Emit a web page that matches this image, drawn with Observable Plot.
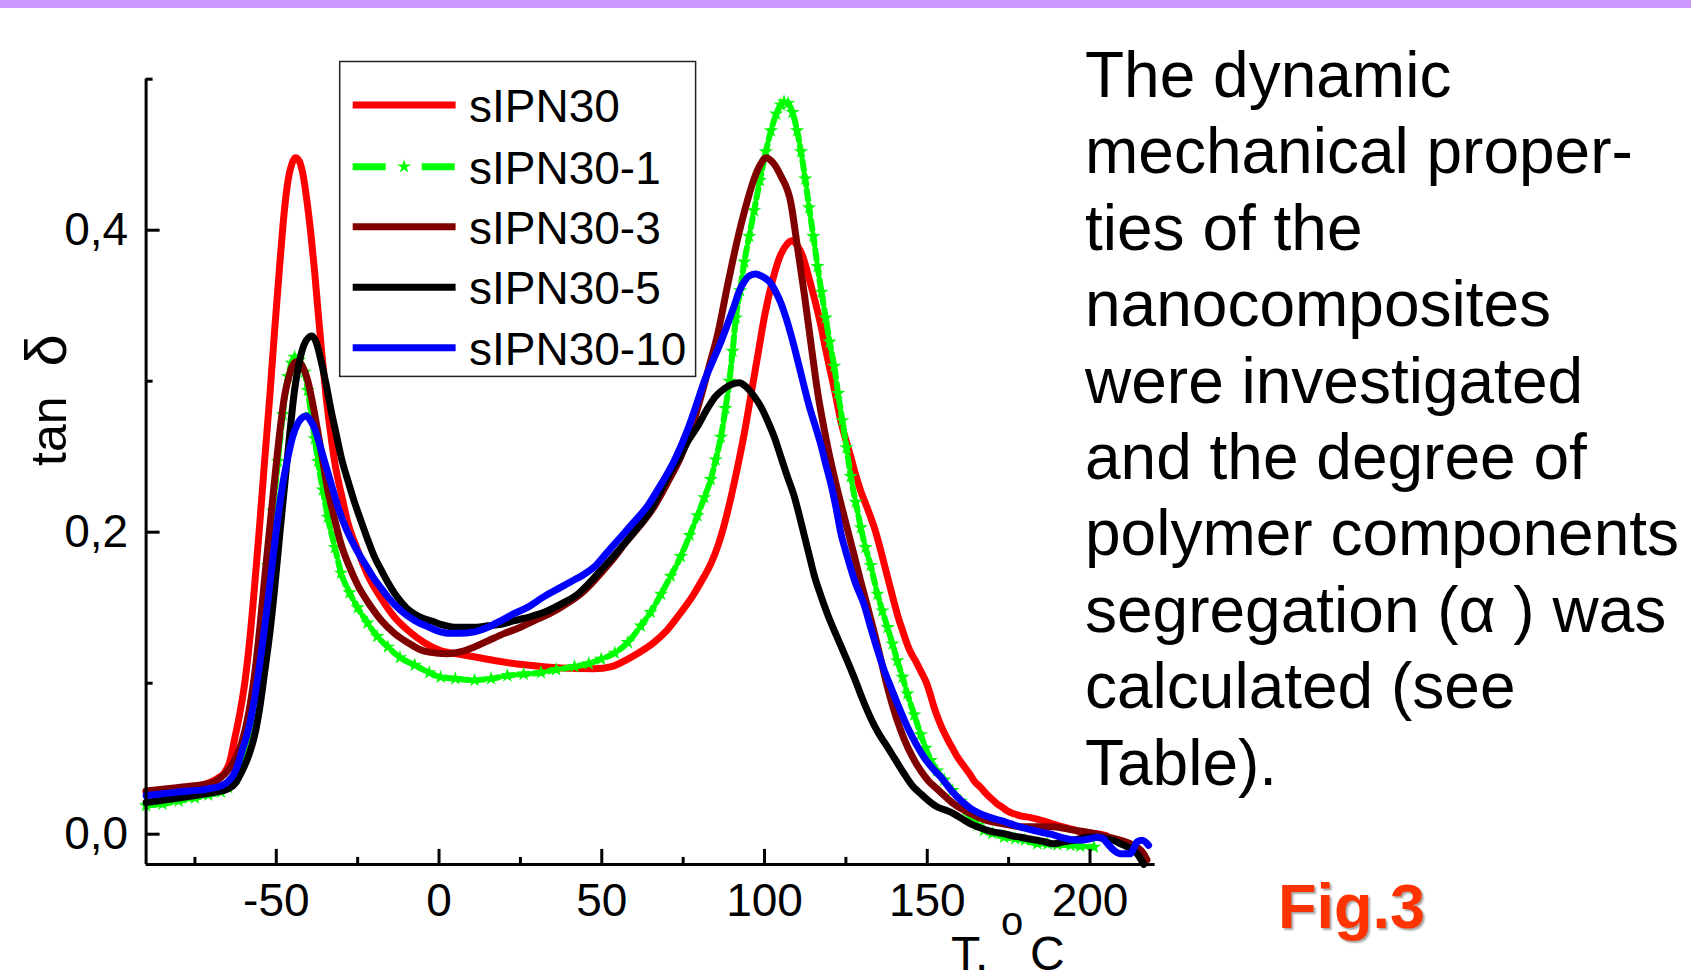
<!DOCTYPE html>
<html>
<head>
<meta charset="utf-8">
<script src="https://cdn.jsdelivr.net/npm/d3@7"></script>
<script src="https://cdn.jsdelivr.net/npm/@observablehq/plot@0.6"></script>
<style>
html,body{margin:0;padding:0;background:#fff;overflow:hidden;}
#page{position:relative;width:1691px;height:980px;overflow:hidden;font-family:"Liberation Sans",Arial,Helvetica,sans-serif;color:#000;background:#fff;}
#band{position:absolute;left:0;top:0;width:1691px;height:8px;background:#cc99ff;}
#chart{position:absolute;left:0;top:0;}
#overlay{position:absolute;left:0;top:0;pointer-events:none;}
#para{position:absolute;left:1085px;top:37px;font-size:64px;line-height:76.4px;white-space:pre;}
#fig{position:absolute;left:1278px;top:874.5px;font-size:63px;line-height:1;font-weight:bold;color:#ff3300;text-shadow:2px 2px 2px rgba(0,0,0,0.35);}
</style>
</head>
<body>
<div id="page">
  <div id="band"></div>
  <div id="chart"></div>
  <div id="para"></div>
  <div id="fig">Fig.3</div>
</div>
<script>
// ---------------- data ----------------
const seriesNames = ["sIPN30", "sIPN30-1", "sIPN30-3", "sIPN30-5", "sIPN30-10"];
const seriesColors = ["#ff0000", "#00ff00", "#800000", "#000000", "#0000ff"];

const xMajorTicks = [-50, 0, 50, 100, 150, 200];
const xMinorTicks = [-75, -25, 25, 75, 125, 175];
const yMajorTicks = [0, 0.2, 0.4];
const yMinorTicks = [0.1, 0.3, 0.5];
const yTickLabels = ["0,0", "0,2", "0,4"];
const xLabel = ["T.", "o", "C"];
const yLabel = ["tan", "δ"];
const figLabel = "Fig.3";
const paragraphLines = [
  "The dynamic",
  "mechanical proper-",
  "ties of the",
  "nanocomposites",
  "were investigated",
  "and the degree of",
  "polymer components",
  "segregation (α ) was",
  "calculated (see",
  "Table)."
];

// [T (°C), tan δ]
const sIPN30 = [[-90,0.028],[-80,0.030],[-72,0.033],[-68,0.037],[-65.8,0.041],[-64.3,0.048],[-62.8,0.063],[-61.2,0.08],[-59.7,0.10],[-58.1,0.13],[-56.6,0.166],[-55.1,0.205],[-53.6,0.247],[-52,0.29],[-50.5,0.334],[-49.2,0.37],[-48,0.402],[-46.6,0.43],[-45.2,0.444],[-44.1,0.448],[-43,0.446],[-41.8,0.437],[-40.5,0.418],[-39.3,0.396],[-38.2,0.372],[-37.2,0.347],[-36,0.318],[-34.7,0.29],[-33.4,0.267],[-32.1,0.247],[-30,0.225],[-28.1,0.207],[-25,0.188],[-22,0.172],[-18,0.157],[-13.8,0.144],[-9,0.134],[-4.6,0.127],[0,0.122],[6.8,0.119],[12,0.117],[17,0.115],[27,0.112],[37.5,0.110],[47.7,0.1095],[53,0.111],[58,0.116],[62,0.121],[66,0.127],[70,0.135],[74,0.146],[78,0.158],[81,0.169],[83.5,0.179],[86,0.193],[88,0.208],[90,0.226],[92,0.246],[94,0.268],[96,0.293],[98,0.318],[100,0.343],[102.5,0.367],[105,0.384],[107,0.391],[108.5,0.393],[110,0.39],[111.7,0.383],[113.2,0.372],[114.7,0.36],[116,0.349],[117.3,0.337],[118.8,0.321],[120.4,0.305],[122,0.289],[123.4,0.274],[125,0.261],[126.5,0.25],[128,0.238],[129.6,0.227],[131.2,0.218],[132.6,0.21],[133.9,0.202],[135.7,0.188],[137,0.177],[138.2,0.167],[140,0.152],[141.3,0.142],[142.4,0.135],[143.8,0.126],[145,0.12],[146.6,0.114],[148,0.108],[149.8,0.1],[151,0.092],[152.1,0.084],[154,0.073],[156.2,0.063],[158,0.056],[159.3,0.051],[161.3,0.045],[163,0.04],[164.5,0.035],[166.4,0.031],[168,0.027],[170,0.023],[171.5,0.02],[173,0.018],[174.5,0.0155],[176.6,0.0135],[179,0.012],[181.8,0.011],[184,0.0098],[186.9,0.008],[189,0.0065],[192,0.0047],[195,0.003],[197.1,0.0014],[200,0.0008],[202.2,0.0003],[205,-0.001]];

const sIPN30_1 = [[-90,0.019],[-85,0.020],[-80,0.022],[-75,0.024],[-70.9,0.026],[-67,0.028],[-64.8,0.031],[-62.5,0.037],[-60.7,0.047],[-58.5,0.065],[-56.6,0.091],[-54.5,0.13],[-52.6,0.178],[-51,0.214],[-49.5,0.247],[-48,0.278],[-46.4,0.303],[-45.3,0.312],[-44.4,0.316],[-43,0.314],[-41.3,0.306],[-40.3,0.294],[-39.3,0.278],[-38.2,0.262],[-37.2,0.247],[-35.7,0.228],[-34.2,0.21],[-32,0.19],[-30.1,0.173],[-27.5,0.16],[-25,0.15],[-22,0.14],[-19,0.131],[-15.7,0.124],[-12,0.117],[-7.5,0.112],[-3,0.107],[0.5,0.104],[5,0.103],[10.9,0.102],[16,0.103],[21,0.105],[26,0.106],[31.3,0.107],[36,0.109],[41.6,0.111],[46,0.113],[49.8,0.116],[54,0.12],[58,0.127],[62,0.138],[65,0.147],[68.2,0.159],[71.2,0.171],[74.3,0.184],[77,0.198],[79.4,0.211],[81.5,0.223],[83.5,0.235],[85,0.248],[86.6,0.263],[88,0.282],[89.2,0.300],[90.2,0.32],[91.2,0.342],[92.5,0.36],[93.8,0.379],[95.3,0.396],[96.8,0.413],[98.6,0.433],[100.4,0.452],[102,0.466],[103.6,0.477],[105,0.483],[106,0.485],[107.2,0.484],[108.6,0.478],[110,0.466],[111.2,0.452],[112.5,0.434],[113.7,0.415],[115,0.396],[116.3,0.376],[117.5,0.359],[118.8,0.342],[120,0.326],[121.4,0.31],[122.6,0.292],[123.9,0.274],[125.2,0.256],[126.5,0.237],[128,0.22],[129.6,0.203],[131,0.19],[132.6,0.178],[134.7,0.159],[136.2,0.148],[137.8,0.137],[139.3,0.126],[140.8,0.115],[142.4,0.104],[143.9,0.093],[146,0.079],[148,0.066],[149.5,0.057],[151.1,0.049],[153,0.042],[155.2,0.036],[157.7,0.029],[160.3,0.022],[162,0.016],[163.3,0.0113],[165.5,0.006],[167.4,0.0025],[170,0.0005],[173.6,-0.002],[177,-0.003],[180,-0.004],[183.8,-0.0063],[187,-0.0065],[190,-0.007],[194,-0.0074],[197,-0.008],[201.2,-0.0085]];

const sIPN30_3 = [[-90,0.0287],[-80,0.031],[-70.9,0.0334],[-68,0.036],[-65.8,0.04],[-63,0.048],[-60.7,0.06],[-58.5,0.08],[-56.6,0.107],[-55,0.138],[-53.6,0.169],[-52,0.203],[-50.5,0.235],[-49,0.265],[-47.4,0.291],[-46,0.304],[-44.9,0.311],[-43.4,0.313],[-42,0.31],[-40.3,0.30],[-38.8,0.285],[-37.2,0.266],[-35.7,0.247],[-34.2,0.228],[-32,0.208],[-30.1,0.192],[-27.5,0.177],[-25,0.165],[-21,0.151],[-17.9,0.142],[-13.7,0.133],[-9.7,0.127],[-5.5,0.122],[-1,0.12],[2.7,0.1195],[7,0.121],[10.9,0.124],[15,0.128],[20.1,0.133],[25,0.137],[29.3,0.1415],[34,0.146],[39.5,0.153],[44,0.16],[47.7,0.168],[53,0.181],[58,0.195],[62,0.205],[66.1,0.217],[70,0.232],[74.3,0.25],[77,0.265],[80.5,0.29],[83,0.31],[85.6,0.331],[88.6,0.363],[91.7,0.394],[94.8,0.42],[96.8,0.434],[98.6,0.443],[100.4,0.448],[102.5,0.445],[105,0.436],[108.1,0.418],[110.1,0.389],[112.2,0.358],[114.2,0.326],[116.3,0.293],[118.8,0.263],[121.4,0.237],[124.4,0.211],[127.5,0.185],[129.5,0.168],[131.6,0.151],[134.7,0.125],[137.8,0.097],[140.5,0.077],[142.9,0.063],[145.5,0.051],[148,0.042],[150.5,0.035],[153,0.03],[155.5,0.025],[158.2,0.02],[163,0.014],[168.5,0.009],[173,0.007],[178.7,0.005],[184,0.005],[188.9,0.005],[194,0.003],[199.2,0.0014],[204,-0.001],[209.4,-0.004],[213,-0.007],[216.5,-0.013],[217.5,-0.017]];

const sIPN30_5 = [[-90,0.021],[-80,0.024],[-70.9,0.027],[-64.8,0.030],[-62.5,0.034],[-60.7,0.041],[-58.5,0.052],[-56.6,0.066],[-55,0.085],[-53.6,0.107],[-52,0.133],[-50.5,0.163],[-49,0.197],[-47.4,0.232],[-46,0.262],[-44.4,0.294],[-42.8,0.314],[-41.3,0.325],[-39.1,0.33],[-37.6,0.325],[-36.2,0.313],[-34.7,0.298],[-33.2,0.281],[-31.6,0.265],[-30.1,0.25],[-28,0.234],[-26,0.22],[-23.9,0.207],[-21.9,0.195],[-19.9,0.184],[-17.8,0.175],[-15.8,0.167],[-13.8,0.16],[-11.7,0.154],[-9.6,0.149],[-7.7,0.146],[-5,0.143],[-2,0.141],[0.5,0.139],[4.7,0.137],[10,0.137],[15,0.138],[19,0.139],[23.2,0.1415],[28,0.144],[33.4,0.148],[38,0.153],[42.6,0.159],[46,0.166],[49.8,0.175],[54,0.185],[58,0.195],[61,0.203],[65.1,0.215],[68,0.227],[71.2,0.24],[74,0.25],[76.4,0.26],[79.4,0.27],[82.5,0.282],[85,0.29],[87.6,0.295],[90,0.298],[92.2,0.299],[94.5,0.296],[96.8,0.29],[98.9,0.283],[100.9,0.274],[103,0.263],[105,0.25],[107,0.237],[109.1,0.224],[110.7,0.211],[112.2,0.198],[113.7,0.185],[115.2,0.172],[117.3,0.158],[119.3,0.146],[121,0.137],[122.4,0.13],[125,0.117],[127.5,0.104],[130,0.09],[132.6,0.077],[135,0.067],[137.8,0.0577],[140,0.05],[142.9,0.04],[145.5,0.032],[148,0.0268],[150.5,0.022],[153.1,0.018],[155.5,0.016],[158.2,0.0135],[160.8,0.01],[163.3,0.0069],[166,0.0045],[168.5,0.0025],[171,0.0012],[173.6,0.0003],[176,-0.001],[178.7,-0.002],[181,-0.003],[183.8,-0.004],[186,-0.005],[188.9,-0.0063],[192,-0.005],[195,-0.004],[199.2,-0.002],[202,-0.002],[204.3,-0.003],[207,-0.004],[209.4,-0.0063],[212,-0.009],[214.5,-0.013],[216.5,-0.02]];

const sIPN30_10 = [[-90,0.0256],[-80,0.028],[-70.9,0.030],[-67,0.032],[-64.8,0.035],[-62.5,0.042],[-60.7,0.054],[-58.5,0.07],[-56.6,0.091],[-54.5,0.122],[-52.6,0.154],[-51,0.184],[-49.5,0.21],[-48,0.232],[-46.4,0.25],[-45,0.263],[-43.4,0.272],[-42,0.276],[-40.8,0.277],[-39.5,0.274],[-38.3,0.269],[-36.8,0.259],[-35.2,0.247],[-33,0.231],[-31.1,0.217],[-28.5,0.202],[-26,0.191],[-23.9,0.183],[-21.9,0.176],[-19.9,0.169],[-17.8,0.163],[-15.7,0.157],[-11.7,0.148],[-7.5,0.1415],[-3,0.137],[0.5,0.134],[2.7,0.133],[6,0.133],[10.9,0.134],[15,0.137],[19.1,0.1415],[23,0.146],[27.3,0.1504],[32,0.157],[37.5,0.1636],[42,0.169],[44.5,0.172],[47.7,0.177],[51,0.185],[55.9,0.197],[60,0.207],[64.1,0.2175],[68,0.231],[72.3,0.2475],[76.4,0.268],[79.4,0.2865],[81.5,0.3],[84,0.313],[86.6,0.326],[88.7,0.338],[90.7,0.35],[92.3,0.36],[93.8,0.366],[95.5,0.37],[97.3,0.371],[99.6,0.369],[101.9,0.365],[103.5,0.359],[105,0.352],[106.6,0.342],[108.1,0.331],[109.7,0.318],[111.2,0.305],[112.7,0.292],[114.2,0.28],[115.8,0.269],[117.3,0.258],[118.8,0.245],[120.4,0.232],[122,0.216],[123.4,0.2],[125,0.187],[126.5,0.176],[128,0.166],[130.6,0.152],[132.6,0.137],[134.7,0.122],[136.7,0.109],[138.8,0.0974],[141.3,0.084],[143.9,0.071],[146.5,0.06],[149,0.051],[151.5,0.044],[154.1,0.038],[157,0.03],[160.3,0.0224],[163.4,0.017],[166.4,0.0135],[169.5,0.011],[172.5,0.0091],[175.5,0.007],[178.7,0.0047],[181.8,0.003],[184.8,0.0014],[188,0],[191,-0.002],[194,-0.0035],[197.1,-0.004],[200,-0.003],[202.2,-0.002],[204,-0.003],[205.3,-0.006],[207.5,-0.011],[209.4,-0.013],[212.4,-0.013],[213.5,-0.009],[214.5,-0.005],[216,-0.004],[218,-0.0074]];

const seriesData = [sIPN30, sIPN30_1, sIPN30_3, sIPN30_5, sIPN30_10];

// ---------------- layout ----------------
const W = 1691, H = 980;
const mL = 145.6, mT = 78.7, mB = 116.1, mR = 536.4;
const fw = W - mL - mR, fh = H - mT - mB;
const FONT = '"Liberation Sans", Arial, Helvetica, sans-serif';

const lineOpts = (i, extra = {}) => ({
  x: d => d[0], y: d => d[1], stroke: seriesColors[i], strokeWidth: 7,
  curve: "monotone-x", strokeLinejoin: "round", ...extra
});

const chart = Plot.plot({
  width: W, height: H,
  marginLeft: mL, marginTop: mT, marginBottom: mB, marginRight: mR,
  x: {domain: [-90, 220]},
  y: {domain: [-0.02, 0.5]},
  style: {fontFamily: FONT, fontSize: "46px", background: "transparent", color: "#000", overflow: "visible"},
  marks: [
    Plot.line(seriesData[0], lineOpts(0)),
    Plot.line(seriesData[1], lineOpts(1, {strokeWidth: 6, strokeDasharray: "10,5"})),
    Plot.dot(seriesData[1], {x: d => d[0], y: d => d[1], symbol: "star", r: 4.5, fill: seriesColors[1], stroke: null}),
    Plot.line(seriesData[2], lineOpts(2)),
    Plot.line(seriesData[3], lineOpts(3)),
    Plot.line(seriesData[4], lineOpts(4)),
    Plot.ruleX([-90], {strokeWidth: 3}),
    Plot.ruleY([-0.02], {strokeWidth: 3}),
    Plot.tickY(yMajorTicks, {y: d => d, insetRight: fw - 14, strokeWidth: 3}),
    Plot.tickY(yMinorTicks, {y: d => d, insetRight: fw - 7, strokeWidth: 3}),
    Plot.tickX(xMajorTicks, {x: d => d, insetTop: fh - 15, strokeWidth: 3}),
    Plot.tickX(xMinorTicks, {x: d => d, insetTop: fh - 7, strokeWidth: 3}),
    Plot.axisX(xMajorTicks, {tickSize: 0, tickPadding: 19, fontSize: 46, tickFormat: d => String(d), label: null}),
    Plot.axisY(yMajorTicks, {tickSize: 0, tickPadding: 18, fontSize: 46, tickFormat: d => yTickLabels[yMajorTicks.indexOf(d)], label: null})
  ]
});
document.getElementById("chart").appendChild(chart);

// ---------------- overlay: legend + axis titles ----------------
const ov = d3.select("#page").append("svg")
  .attr("id", "overlay")
  .attr("width", W).attr("height", H)
  .style("font-family", FONT);

// legend box
const lg = {x: 339.7, y: 61.5, w: 355.9, h: 314.9, rows: [105, 166.7, 226.7, 287.3, 347.7], x1: 352.7, x2: 455.6, tx: 469};
ov.append("rect").attr("x", lg.x).attr("y", lg.y).attr("width", lg.w).attr("height", lg.h)
  .attr("fill", "#fff").attr("stroke", "#222").attr("stroke-width", 1.5);
seriesNames.forEach((name, i) => {
  const y = lg.rows[i];
  const ln = ov.append("line").attr("x1", lg.x1).attr("x2", lg.x2).attr("y1", y).attr("y2", y)
    .attr("stroke", seriesColors[i]).attr("stroke-width", 7);
  if (i === 1) {
    ln.attr("stroke-dasharray", "33,36");
    ov.append("path").attr("d", d3.symbol(d3.symbolStar, 60)())
      .attr("transform", `translate(${(lg.x1 + lg.x2) / 2},${y})`).attr("fill", seriesColors[1]);
  }
  ov.append("text").attr("x", lg.tx).attr("y", y + 17).attr("font-size", 46).attr("fill", "#000").text(name);
});

// y axis title
const yt = ov.append("text").attr("transform", "translate(66,466) rotate(-90)").attr("text-anchor", "start").attr("fill", "#000");
yt.append("tspan").attr("font-size", 50).text(yLabel[0]);
yt.append("tspan").attr("font-size", 58).attr("dx", 30).text(yLabel[1]);

// x axis title  T.oC  (three separate texts)
ov.append("text").attr("x", 951).attr("y", 969.5).attr("font-size", 48).attr("fill", "#000").text(xLabel[0]);
ov.append("text").attr("x", 1001).attr("y", 935).attr("font-size", 40).attr("fill", "#000").text(xLabel[1]);
ov.append("text").attr("x", 1030).attr("y", 969.5).attr("font-size", 48).attr("fill", "#000").text(xLabel[2]);

// paragraph text
document.getElementById("para").textContent = paragraphLines.join("\n");
document.getElementById("fig").textContent = figLabel;
</script>
</body>
</html>
